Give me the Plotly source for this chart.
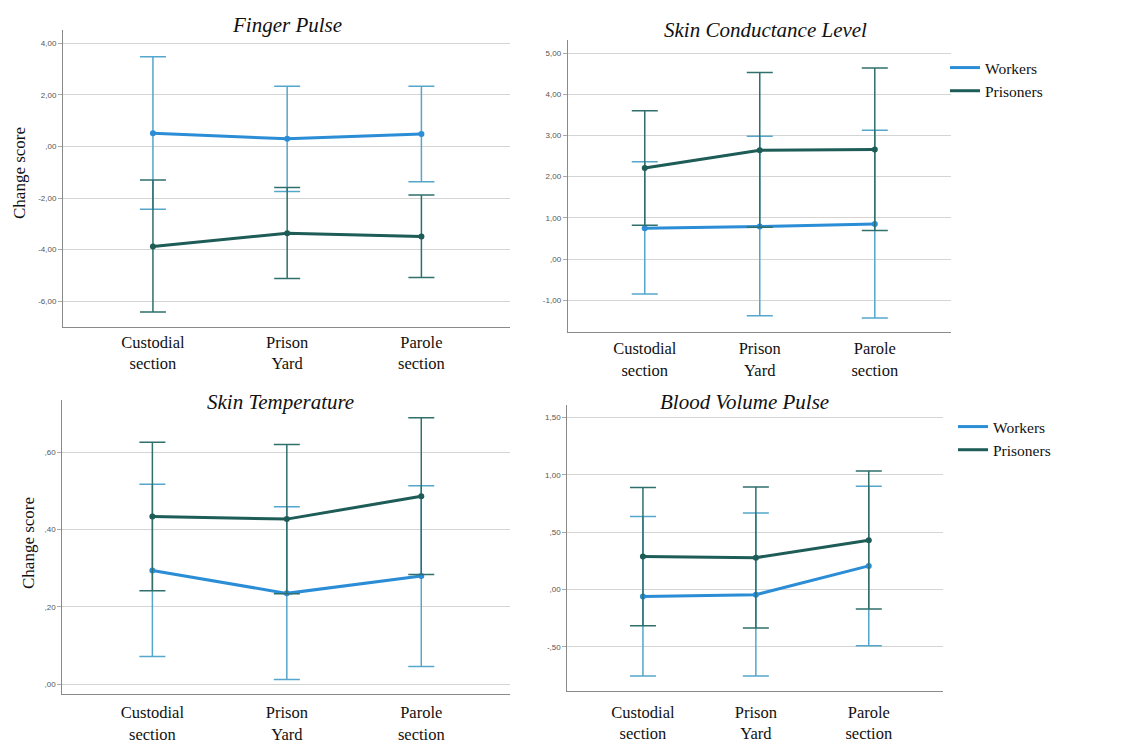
import plotly.graph_objects as go

categories = ["Custodial<br>section", "Prison<br>Yard", "Parole<br>section"]
groups = ["Workers", "Prisoners"]

# Finger Pulse
fp_workers_mean = [0.52, 0.30, 0.49]
fp_workers_low = [-2.43, -1.74, -1.37]
fp_workers_high = [3.48, 2.34, 2.34]
fp_prisoners_mean = [-3.88, -3.36, -3.49]
fp_prisoners_low = [-6.42, -5.12, -5.08]
fp_prisoners_high = [-1.30, -1.59, -1.88]

# Skin Conductance Level
scl_workers_mean = [0.75, 0.79, 0.85]
scl_workers_low = [-0.85, -1.38, -1.43]
scl_workers_high = [2.36, 2.98, 3.13]
scl_prisoners_mean = [2.21, 2.64, 2.66]
scl_prisoners_low = [0.82, 0.77, 0.69]
scl_prisoners_high = [3.60, 4.53, 4.64]

# Skin Temperature
st_workers_mean = [0.294, 0.235, 0.280]
st_workers_low = [0.072, 0.012, 0.046]
st_workers_high = [0.517, 0.459, 0.513]
st_prisoners_mean = [0.434, 0.427, 0.486]
st_prisoners_low = [0.242, 0.234, 0.284]
st_prisoners_high = [0.626, 0.620, 0.689]

# Blood Volume Pulse
bvp_workers_mean = [-0.061, -0.044, 0.207]
bvp_workers_low = [-0.753, -0.753, -0.490]
bvp_workers_high = [0.637, 0.669, 0.902]
bvp_prisoners_mean = [0.288, 0.279, 0.430]
bvp_prisoners_low = [-0.314, -0.334, -0.169]
bvp_prisoners_high = [0.890, 0.896, 1.035]

fp_ticks = [-6, -4, -2, 0, 2, 4]
fp_ticktext = ["-6,00", "-4,00", "-2,00", ",00", "2,00", "4,00"]
scl_ticks = [-1, 0, 1, 2, 3, 4, 5]
scl_ticktext = ["-1,00", ",00", "1,00", "2,00", "3,00", "4,00", "5,00"]
st_ticks = [0, 0.2, 0.4, 0.6]
st_ticktext = [",00", ",20", ",40", ",60"]
bvp_ticks = [-0.5, 0, 0.5, 1.0, 1.5]
bvp_ticktext = ["-,50", ",00", ",50", "1,00", "1,50"]

titles = ["Finger Pulse", "Skin Conductance Level", "Skin Temperature", "Blood Volume Pulse"]
ytitle = "Change score"

# page has an 8px body margin; the figure is sized to fit the window
OFF = 8
W, H = 1138 - OFF, 744 - OFF


def sx(x):
    return (x - OFF) / W


def sy(y):
    return (H - (y - OFF)) / H


line_colors = {"Workers": "#2a8dd6", "Prisoners": "#1e5c57"}
err_colors = {"Workers": "#55a6cc", "Prisoners": "#2f6f6c"}

panels = [
    dict(data={"Workers": (fp_workers_mean, fp_workers_low, fp_workers_high),
               "Prisoners": (fp_prisoners_mean, fp_prisoners_low, fp_prisoners_high)},
         px=(63, 510), py=(30, 327), yr=(-7.0, 4.52), ticks=(fp_ticks, fp_ticktext), standoff=0),
    dict(data={"Workers": (scl_workers_mean, scl_workers_low, scl_workers_high),
               "Prisoners": (scl_prisoners_mean, scl_prisoners_low, scl_prisoners_high)},
         px=(567.7, 950.7), py=(40, 332.3), yr=(-1.78, 5.32), ticks=(scl_ticks, scl_ticktext), standoff=1),
    dict(data={"Workers": (st_workers_mean, st_workers_low, st_workers_high),
               "Prisoners": (st_prisoners_mean, st_prisoners_low, st_prisoners_high)},
         px=(62.3, 510), py=(400, 694.3), yr=(-0.026, 0.735), ticks=(st_ticks, st_ticktext), standoff=3),
    dict(data={"Workers": (bvp_workers_mean, bvp_workers_low, bvp_workers_high),
               "Prisoners": (bvp_prisoners_mean, bvp_prisoners_low, bvp_prisoners_high)},
         px=(567.3, 943.3), py=(405, 691), yr=(-0.884, 1.61), ticks=(bvp_ticks, bvp_ticktext), standoff=6),
]

fig = go.Figure()
serif = "Liberation Serif, Times New Roman, serif"
sans = "Liberation Sans, Arial, sans-serif"

layout = dict(
    width=W, height=H, margin=dict(l=0, r=0, t=0, b=0, autoexpand=False),
    paper_bgcolor="white", plot_bgcolor="white", showlegend=True,
)

for i, p in enumerate(panels):
    n = i + 1
    xa = "x" if n == 1 else f"x{n}"
    ya = "y" if n == 1 else f"y{n}"
    legend_name = "legend" if n <= 2 else "legend2"
    for g in ["Workers", "Prisoners"]:
        mean, low, high = p["data"][g]
        fig.add_trace(go.Scatter(
            x=categories, y=mean, xaxis=xa, yaxis=ya,
            mode="lines+markers", name=g, showlegend=False,
            line=dict(color=line_colors[g], width=3),
            marker=dict(color=line_colors[g], size=6),
            error_y=dict(type="data", symmetric=False,
                         array=[h - m for h, m in zip(high, mean)],
                         arrayminus=[m - l for m, l in zip(mean, low)],
                         color=err_colors[g], thickness=1.5, width=13),
            cliponaxis=False,
        ))
    if n in (2, 4):
        for g in ["Workers", "Prisoners"]:
            fig.add_trace(go.Scatter(
                x=[None], y=[None], xaxis=xa, yaxis=ya, mode="lines", name=g,
                line=dict(color=line_colors[g], width=3), showlegend=True, legend=legend_name,
            ))
    x0, x1 = p["px"]
    y0, y1 = p["py"]
    layout["xaxis" if n == 1 else f"xaxis{n}"] = dict(
        domain=[sx(x0), sx(x1)], anchor=ya, type="category", automargin=False,
        range=[-0.67, 2.66], showgrid=False, zeroline=False,
        showline=True, linecolor="#8a8a8a", linewidth=1, ticks="",
        tickfont=dict(family=serif, size=16.5, color="#111"),
        ticklabelstandoff=p["standoff"], fixedrange=True,
    )
    layout["yaxis" if n == 1 else f"yaxis{n}"] = dict(
        domain=[sy(y1), sy(y0)], anchor=xa, automargin=False,
        range=list(p["yr"]), tickvals=p["ticks"][0], ticktext=p["ticks"][1],
        showgrid=True, gridcolor="#d4d4d4", gridwidth=1.2, zeroline=False,
        showline=True, linecolor="#8a8a8a", linewidth=1,
        ticks="outside", ticklen=4, tickcolor="#aaaaaa",
        tickfont=dict(family=sans, size=8, color="#555"),
    )

layout["legend"] = dict(x=sx(945), y=sy(51), xanchor="left", yanchor="top",
                        font=dict(family=serif, size=15.5, color="#111"),
                        bgcolor="rgba(0,0,0,0)", tracegroupgap=0, itemwidth=30)
layout["legend2"] = dict(x=sx(953), y=sy(410), xanchor="left", yanchor="top",
                         font=dict(family=serif, size=15.5, color="#111"),
                         bgcolor="rgba(0,0,0,0)", tracegroupgap=0, itemwidth=30)

title_pos = [(287, 25), (765, 30), (280, 402), (744, 402)]
annotations = []
for t, (tx, ty) in zip(titles, title_pos):
    annotations.append(dict(
        text=f"<i>{t}</i>", x=sx(tx), y=sy(ty), xref="paper", yref="paper",
        xanchor="center", yanchor="middle", showarrow=False,
        font=dict(family=serif, size=21, color="#111"),
    ))
for (tx, ty) in [(19, 173), (28, 543)]:
    annotations.append(dict(
        text=ytitle, x=sx(tx), y=sy(ty), xref="paper", yref="paper",
        xanchor="center", yanchor="middle", showarrow=False, textangle=-90,
        font=dict(family=serif, size=17, color="#111"),
    ))
layout["annotations"] = annotations

fig.update_layout(**layout)
fig.write_html("out.html")
